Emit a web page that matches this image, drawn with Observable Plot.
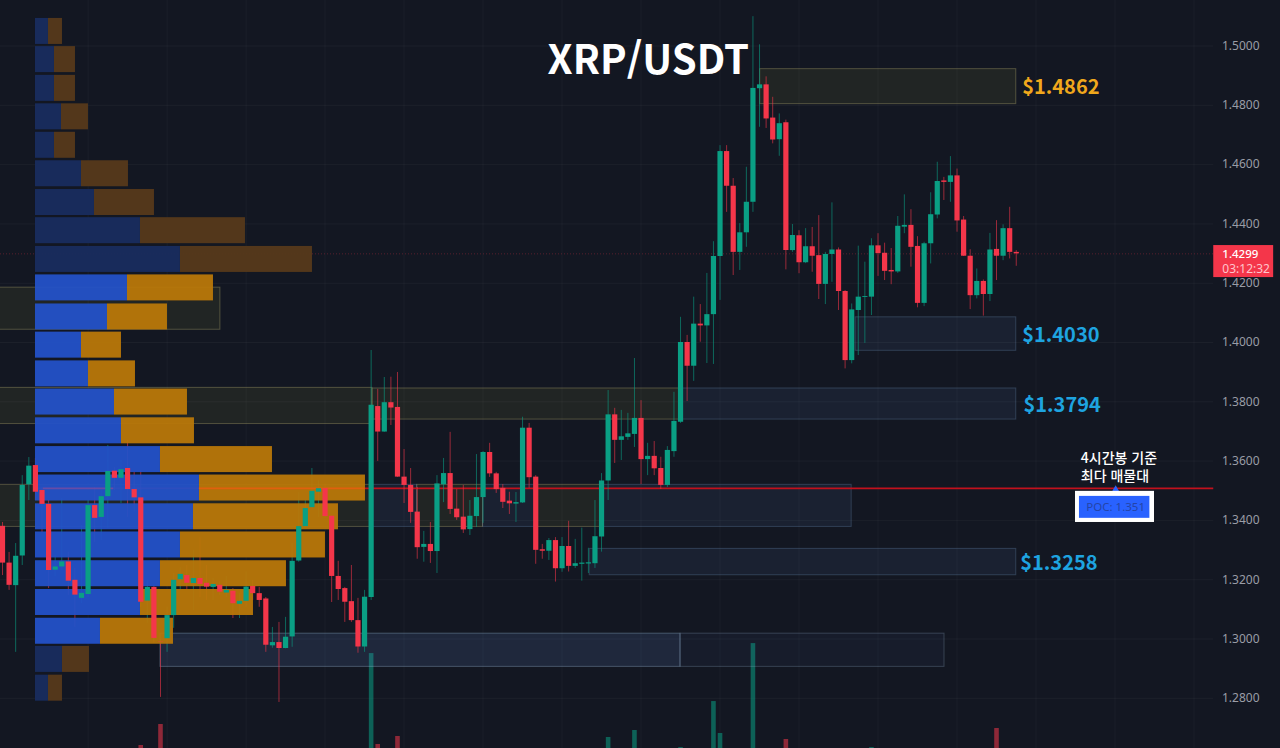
<!DOCTYPE html>
<html lang="ko">
<head>
<meta charset="utf-8">
<title>XRP/USDT</title>
<style>
html,body{margin:0;padding:0;background:#131722;overflow:hidden}
svg{display:block}
</style>
<script src="https://cdn.jsdelivr.net/npm/d3@7"></script>
<script src="https://cdn.jsdelivr.net/npm/@observablehq/plot@0.6"></script>
</head>
<body>
<div id="chart"></div>
<script>
const candleOpen = [
1.3380,1.3256,1.3180,1.3280,1.3520,1.3585,1.3501,1.3454,1.3232,1.3243,
1.3260,1.3198,1.3137,1.3150,1.3450,1.3410,1.3480,1.3566,1.3542,1.3575,
1.3504,1.3476,1.3128,1.3174,1.2991,1.3001,1.3079,1.3200,1.3214,1.3187,
1.3204,1.3188,1.3174,1.3181,1.3155,1.3161,1.3117,1.3127,1.3177,1.3153,
1.3135,1.2977,1.2988,1.2968,1.3007,1.3263,1.3379,1.3443,1.3495,1.3507,
1.3414,1.3211,1.3170,1.3126,1.3062,1.2973,1.3140,1.3784,1.3698,1.3797,
1.3781,1.3546,1.3518,1.3428,1.3309,1.3319,1.3295,1.3520,1.3558,1.3438,
1.3411,1.3369,1.3413,1.3477,1.3629,1.3557,1.3508,1.3465,1.3455,1.3459,
1.3711,1.3546,1.3301,1.3296,1.3332,1.3237,1.3312,1.3245,1.3252,1.3253,
1.3254,1.3344,1.3533,1.3756,1.3670,1.3680,1.3690,1.3744,1.3605,1.3616,
1.3575,1.3518,1.3632,1.3731,1.4000,1.3920,1.4062,1.4056,1.4094,1.4290,
1.4644,1.4527,1.4304,1.4370,1.4473,1.4856,1.4869,1.4757,1.4684,1.4741,
1.4310,1.4360,1.4269,1.4323,1.4293,1.4196,1.4297,1.4312,1.4172,1.3939,
1.4108,1.4152,1.4153,1.4326,1.4301,1.4243,1.4238,1.4389,1.4395,1.4324,
1.4132,1.4333,1.4430,1.4545,1.4540,1.4562,1.4413,1.4291,1.4158,1.4206,
1.4162,1.4314,1.4291,1.4384,1.4304];
const candleHigh = [
1.3393,1.3292,1.3322,1.3551,1.3612,1.3609,1.3511,1.3467,1.3282,1.3474,
1.3293,1.3238,1.3383,1.3467,1.3511,1.3501,1.3653,1.3578,1.3602,1.3670,
1.3562,1.3568,1.3198,1.3181,1.2998,1.3107,1.3221,1.3241,1.3248,1.3299,
1.3342,1.3248,1.3204,1.3192,1.3211,1.3170,1.3154,1.3226,1.3198,1.3174,
1.3140,1.3039,1.3056,1.3073,1.3322,1.3494,1.3467,1.3575,1.3534,1.3521,
1.3416,1.3262,1.3174,1.3248,1.3137,1.3164,1.3973,1.3842,1.3882,1.3883,
1.3899,1.3639,1.3575,1.3511,1.3363,1.3393,1.3551,1.3609,1.3697,1.3504,
1.3518,1.3467,1.3622,1.3632,1.3660,1.3562,1.3521,1.3495,1.3494,1.3748,
1.3727,1.3551,1.3319,1.3339,1.3342,1.3342,1.3397,1.3336,1.3374,1.3306,
1.3467,1.3558,1.3838,1.3778,1.3771,1.3761,1.3946,1.3804,1.3660,1.3666,
1.3613,1.3649,1.3832,1.4085,1.4024,1.4153,1.4128,1.4233,1.4340,1.4664,
1.4664,1.4553,1.4401,1.4591,1.5099,1.5004,1.4896,1.4827,1.4771,1.4750,
1.4398,1.4377,1.4384,1.4388,1.4428,1.4304,1.4471,1.4319,1.4175,1.4130,
1.4325,1.4271,1.4350,1.4367,1.4335,1.4317,1.4425,1.4498,1.4448,1.4357,
1.4338,1.4505,1.4608,1.4557,1.4627,1.4585,1.4425,1.4313,1.4248,1.4211,
1.4368,1.4411,1.4397,1.4456,1.4310];
const candleLow = [
1.3214,1.3164,1.2955,1.3248,1.3467,1.3467,1.3359,1.3170,1.3211,1.3232,
1.3147,1.3039,1.3120,1.3140,1.3326,1.3332,1.3373,1.3501,1.3457,1.3410,
1.3428,1.3107,1.3053,1.2986,1.2803,1.2955,1.3036,1.3164,1.3164,1.3096,
1.3140,1.3130,1.3130,1.3147,1.3140,1.3069,1.3069,1.3107,1.3130,1.3107,
1.2955,1.2969,1.2786,1.2967,1.2972,1.3259,1.3376,1.3440,1.3410,1.3407,
1.3123,1.3130,1.3056,1.3056,1.2952,1.2955,1.3130,1.3599,1.3697,1.3720,
1.3545,1.3457,1.3390,1.3269,1.3259,1.3255,1.3221,1.3460,1.3420,1.3400,
1.3356,1.3349,1.3376,1.3390,1.3545,1.3491,1.3440,1.3420,1.3393,1.3457,
1.3508,1.3252,1.3269,1.3265,1.3192,1.3225,1.3226,1.3238,1.3195,1.3221,
1.3238,1.3293,1.3467,1.3592,1.3602,1.3670,1.3646,1.3521,1.3551,1.3551,
1.3504,1.3511,1.3613,1.3727,1.3801,1.3869,1.4001,1.3929,1.3926,1.4142,
1.4439,1.4226,1.4243,1.4321,1.4439,1.4726,1.4722,1.4670,1.4628,1.4245,
1.4304,1.4232,1.4266,1.4237,1.4145,1.4128,1.4203,1.4108,1.3911,1.3928,
1.3956,1.3997,1.4091,1.4223,1.4209,1.4195,1.4233,1.4367,1.4254,1.4117,
1.4121,1.4265,1.4417,1.4479,1.4473,1.4372,1.4290,1.4111,1.4147,1.4089,
1.4138,1.4209,1.4276,1.4282,1.4257];
const candleClose = [
1.3256,1.3181,1.3279,1.3518,1.3583,1.3495,1.3454,1.3231,1.3243,1.3260,
1.3195,1.3148,1.3154,1.3450,1.3407,1.3480,1.3565,1.3542,1.3571,1.3504,
1.3476,1.3124,1.3174,1.3002,1.2990,1.3079,1.3198,1.3218,1.3188,1.3204,
1.3184,1.3175,1.3184,1.3158,1.3164,1.3119,1.3127,1.3175,1.3153,1.3130,
1.2979,1.2988,1.2968,1.3006,1.3262,1.3379,1.3440,1.3498,1.3507,1.3413,
1.3211,1.3167,1.3124,1.3062,1.2973,1.3141,1.3788,1.3698,1.3797,1.3779,
1.3546,1.3518,1.3427,1.3308,1.3319,1.3295,1.3523,1.3558,1.3437,1.3409,
1.3368,1.3414,1.3477,1.3629,1.3557,1.3504,1.3461,1.3456,1.3460,1.3711,
1.3544,1.3299,1.3296,1.3332,1.3237,1.3312,1.3245,1.3254,1.3256,1.3257,
1.3345,1.3533,1.3756,1.3670,1.3682,1.3692,1.3744,1.3605,1.3616,1.3574,
1.3518,1.3636,1.3734,1.4000,1.3920,1.4062,1.4056,1.4094,1.4290,1.4644,
1.4527,1.4304,1.4370,1.4473,1.4857,1.4869,1.4754,1.4683,1.4738,1.4310,
1.4361,1.4269,1.4323,1.4291,1.4196,1.4297,1.4312,1.4172,1.3939,1.4110,
1.4153,1.4155,1.4326,1.4300,1.4240,1.4238,1.4392,1.4395,1.4321,1.4132,
1.4333,1.4431,1.4543,1.4540,1.4562,1.4410,1.4291,1.4158,1.4206,1.4162,
1.4312,1.4291,1.4384,1.4304,1.4299];

// Volume pane: only the bars that rise into view
const volumeBar   = [21,24,56,57,60,92,96,103,108,109,114,119,132,151];
const volumeValue = [3,24,95,4,12,11,18,1,47,15,105,9,1,20];

// Visible-range volume profile: 24 price rows
const profileTop = [1.5093,1.4998,1.4901,1.4805,1.4709,1.4613,1.4516,1.4421,1.4324,1.4228,1.4130,1.4035,
                    1.3938,1.3843,1.3746,1.3649,1.3553,1.3456,1.3361,1.3264,1.3167,1.3070,1.2975,1.2878];
const profileBuy  = [13,19,19,26,19,46,59,105,145,92,72,46,53,79,86,125,164,158,145,125,105,65,27,13];
const profileSell = [14,21,21,27,21,47,60,105,132,86,60,40,47,73,73,112,166,145,145,126,113,73,27,14];
const profileInRange = [0,0,0,0,0,0,0,0,0,1,1,1,1,1,1,1,1,1,1,1,1,1,0,0];

// Support / resistance zones
const zoneStart = [115.1,129.6,-1,-1,56.2,103,-1,56.2,63,73,81.3,90.8,89.2,24,103];
const zoneEnd   = [154,154,33.1,56.2,103,154,56.2,63,73,81.3,90.8,129,154,103,143.1];
const zoneHigh  = [1.4922,1.4085,1.4185,1.3847,1.3845,1.3845,1.3520,1.3520,1.3520,1.3520,1.3520,1.3520,1.3304,1.3018,1.3018];
const zoneLow   = [1.4804,1.3972,1.4043,1.3725,1.3740,1.3740,1.3378,1.3378,1.3378,1.3378,1.3378,1.3378,1.3215,1.2906,1.2906];
const zoneKind  = ["y","b","y","y","y","b","y","b","y","b","y","b","b","d","f"];

const priceTicks = [1.50,1.48,1.46,1.44,1.42,1.40,1.38,1.36,1.34,1.32,1.30,1.28];
const timeGridBars = [13,25,37,49,61,73,85,97,109,121,133,145,157,169,181];

const levelText  = ["$1.4862","$1.4030","$1.3794","$1.3258"];
const levelPrice = [1.4860,1.4024,1.3787,1.3255];
const levelBar   = [154.9,154.9,155.1,154.6];
const levelColor = ["#f0a81c","#1ea4e0","#1ea4e0","#1ea4e0"];

const lastPrice = 1.4299;
const pocPrice = 1.3508;
const countdown = "03:12:32";
const noteLines = ["4시간봉 기준","최다 매물대"];
const notePrice = [1.3609,1.3548];

const candles = candleOpen.map((o,i)=>({i,o,h:candleHigh[i],l:candleLow[i],c:candleClose[i],up:candleClose[i]>=o}));
const volumes = volumeBar.map((b,k)=>({b,v:volumeValue[k],up:candles[b].up}));
const rowThickness = 0.00877;
const profileBase = 5.01, profileUnit = 0.1519;
const rows = profileTop.map((t,k)=>({t,buy:profileBuy[k],sell:profileSell[k],on:profileInRange[k]}));
const zones = zoneStart.map((s,k)=>({s,e:zoneEnd[k],h:zoneHigh[k],l:zoneLow[k],k:zoneKind[k]}));
const levels = levelText.map((t,k)=>({t,p:levelPrice[k],b:levelBar[k],c:levelColor[k]}));

const GREEN="#0a9f84", RED="#f4364a", KR='"Noto Sans CJK KR","Noto Sans",sans-serif';
const volumeFloor = 1.26307, volumeUnit = 0.000337, axisEdge = 184;

const zoneMark = (kind,fill,fo,stroke,so)=>Plot.rect(zones.filter(z=>z.k===kind),
  {x1:"s",x2:"e",y1:"l",y2:"h",fill,fillOpacity:fo,stroke,strokeOpacity:so});

const chart = Plot.plot({
  width:1280, height:748,
  marginTop:0, marginRight:0, marginBottom:0, marginLeft:0,
  style:{background:"#131722"},
  x:{domain:[-0.304,194.14], range:[0,1280], axis:null},
  y:{domain:[volumeFloor,1.51535], range:[748,0], axis:null},
  marks:[
    // grid
    Plot.ruleX(timeGridBars,{x:d=>d, stroke:"#fff", strokeOpacity:0.035}),
    Plot.ruleY(priceTicks,{y:d=>d, x1:-0.304, x2:axisEdge, stroke:"#fff", strokeOpacity:0.04}),
    // volume pane
    Plot.ruleX(volumes,{x:"b", y1:volumeFloor, y2:d=>volumeFloor+d.v*volumeUnit,
      stroke:d=>d.up?GREEN:RED, strokeWidth:4.6, strokeOpacity:0.55}),
    // zones
    zoneMark("y","#e7df48",0.07,"#c8bd78",0.32),
    zoneMark("b","#638fd6",0.09,"#7fa8d0",0.26),
    zoneMark("d","#638fd6",0.15,"#9fbcd8",0.35),
    zoneMark("f","#638fd6",0.05,"#9fbcd8",0.25),
    // last price + POC lines
    Plot.ruleY([lastPrice],{x1:-0.304,x2:axisEdge,stroke:RED,strokeOpacity:0.3,strokeDasharray:"1 2"}),
    Plot.ruleY([pocPrice],{x1:5,x2:axisEdge,stroke:"#c2111d",strokeWidth:1.8}),
    // wicks under the translucent profile
    Plot.ruleX(candles,{x:"i",y1:"l",y2:"h",stroke:d=>d.up?GREEN:RED,strokeWidth:1,strokeOpacity:0.6}),
    // volume profile
    Plot.rect(rows,{x1:profileBase,x2:d=>profileBase+d.buy*profileUnit,y1:d=>d.t-rowThickness,y2:"t",
      fill:d=>d.on?"#2352c9":"#182d5f",fillOpacity:0.94}),
    Plot.rect(rows,{x1:d=>profileBase+d.buy*profileUnit,x2:d=>profileBase+(d.buy+d.sell)*profileUnit,y1:d=>d.t-rowThickness,y2:"t",
      fill:d=>d.on?"#ba7808":"#57391b",fillOpacity:0.94}),
    // POC line showing through the profile
    Plot.ruleY([pocPrice],{x1:29.9,x2:55.1,stroke:"#f05a10",strokeWidth:1.8,strokeOpacity:0.7}),
    Plot.ruleY([pocPrice],{x1:6.2,x2:16.9,stroke:"#a04a90",strokeWidth:1.8,strokeOpacity:0.5}),
    // candle bodies
    Plot.ruleX(candles,{x:"i",y1:"o",y2:"c",stroke:d=>d.up?GREEN:RED,strokeWidth:5.2}),
    // title and level labels
    Plot.text(["XRP/USDT"],{x:98.1,y:1.4948,text:d=>d,fill:"#fff",fontSize:40,fontWeight:700,fontFamily:KR}),
    Plot.text(levels,{x:"b",y:"p",text:"t",fill:"c",fontSize:20,fontWeight:700,fontFamily:KR,textAnchor:"start"}),
    // price axis
    Plot.text(priceTicks,{y:d=>d,text:d=>d.toFixed(4),frameAnchor:"right",dx:-21,textAnchor:"end",fill:"#9a9da6",fontSize:12,fontFamily:'"Noto Sans",sans-serif'}),
    // last price badge
    Plot.rect([0],{x1:184,x2:193.1,y1:1.4219,y2:1.4327,fill:"#f4364a"}),
    Plot.text([lastPrice],{x:185,y:1.4299,text:d=>d.toFixed(4),fill:"#fff",fontSize:11.5,fontWeight:500,fontFamily:'"Noto Sans",sans-serif',textAnchor:"start",dx:2}),
    Plot.text([countdown],{x:185,y:1.4249,text:d=>d,fill:"#ffc4cb",fontSize:12,fontFamily:'"Noto Sans",sans-serif',textAnchor:"start",dx:2}),
    // POC note
    Plot.text(noteLines,{x:163.8,y:(d,i)=>notePrice[i],text:d=>d,fill:"#fff",fontSize:14,fontWeight:500,fontFamily:KR,textAnchor:"start"}),
    Plot.dot([pocPrice],{x:169.1,y:d=>d-0.0003,symbol:"triangle",r:2.6,fill:"#2962ff"}),
    Plot.rect([0],{x1:163,x2:175,y1:1.3393,y2:1.3498,fill:"#fff"}),
    Plot.rect([0],{x1:163.6,x2:174.3,y1:1.3407,y2:1.3481,fill:"#2962ff"}),
    Plot.text(["POC: 1.351"],{x:169.1,y:1.3444,text:d=>d,fill:"#2444a8",fontSize:11.5,fontFamily:'"Noto Sans",sans-serif'})
  ]
});
document.getElementById("chart").appendChild(chart);
</script>
</body>
</html>
